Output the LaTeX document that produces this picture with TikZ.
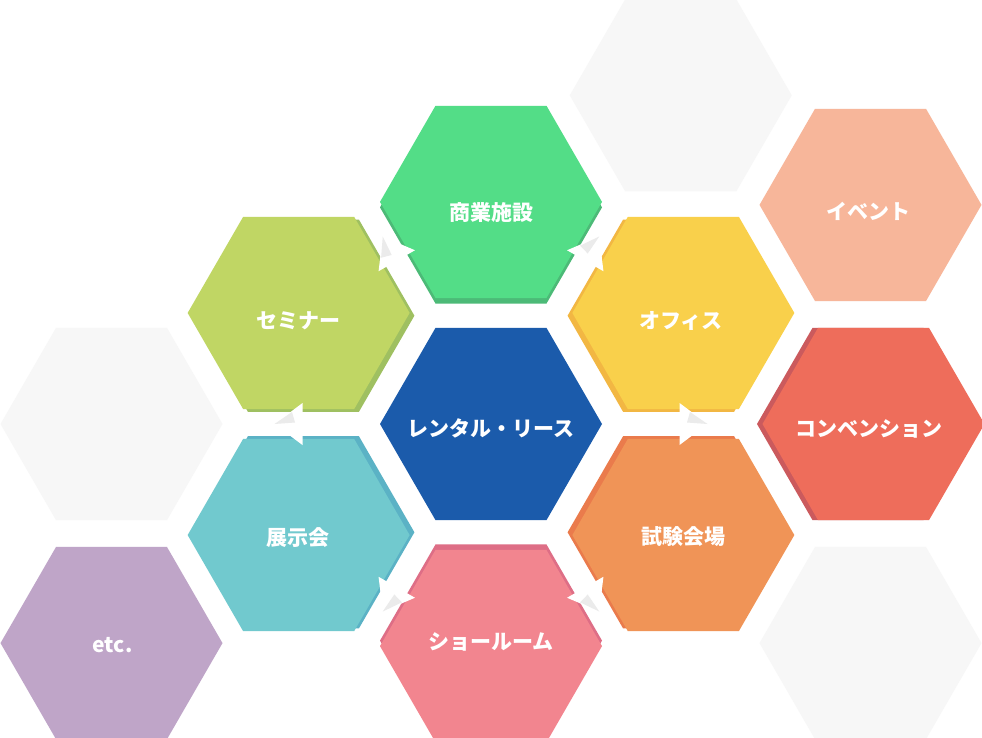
\documentclass[tikz,border=0pt]{standalone}
\usepackage{fontspec}
\newfontfamily\jp{Noto Sans CJK JP}
\usetikzlibrary{calc}
\definecolor{blueC}{HTML}{1B5BAB}
\definecolor{greenN}{HTML}{53DD87}
\definecolor{greenND}{HTML}{4CBA77}
\definecolor{semiC}{HTML}{C0D664}
\definecolor{semiD}{HTML}{9FC061}
\definecolor{officeC}{HTML}{F9D04B}
\definecolor{officeD}{HTML}{F2B743}
\definecolor{examC}{HTML}{F09457}
\definecolor{examD}{HTML}{EA7B4C}
\definecolor{showC}{HTML}{F2858F}
\definecolor{showD}{HTML}{DE6E86}
\definecolor{expoC}{HTML}{71C9CE}
\definecolor{expoD}{HTML}{5BB2C5}
\definecolor{eventC}{HTML}{F7B69A}
\definecolor{convC}{HTML}{EE6D5B}
\definecolor{convD}{HTML}{CB5A5D}
\definecolor{etcC}{HTML}{BFA5C8}
\definecolor{emptyC}{HTML}{F7F7F7}
\definecolor{arrowgrey}{HTML}{EBEBEB}
\newcommand\hexp{+(-111,0) -- +(-55.5,-96.13) -- +(55.5,-96.13) -- +(111,0) -- +(55.5,96.13) -- +(-55.5,96.13) -- cycle}
% x y ux uy face shade  (u = unit vector toward the centre)
\newcommand\cell[6]{%
  \fill[#6] ($(#1,#2)+(2.5*#3,2.5*#4)$) \hexp;
  \fill[#5] ($(#1,#2)-(3*#3,3*#4)$) \hexp;}
\newcommand\plaincell[3]{\fill[#3] (#1,#2) \hexp;}
\newcommand\outarrow[2]{%
  \begin{scope}[shift={(ctr)}, rotate=#1]
    \fill[white] (188.5,21) -- (216.5,0) -- (188.5,-21) -- cycle;
    \fill[arrowgrey] (216.5,0) -- (196,1.5*#2) -- (199,#2*12) -- cycle;
  \end{scope}}
\begin{document}
\begin{tikzpicture}[x=1pt,y=-1pt,
  lbl/.style={font=\jp\bfseries\fontsize{21}{25}\selectfont, text=white, inner sep=0pt}]
\useasboundingbox[fill=white] (0,0) rectangle (982,738);
\coordinate (ctr) at (491,424);
% empty cells
\plaincell{680.75}{95.35}{emptyC}
\plaincell{111.5}{424}{emptyC}
\plaincell{870.5}{643.1}{emptyC}
% plain coloured cells
\plaincell{870.5}{204.9}{eventC}
\plaincell{111.5}{643.1}{etcC}
\plaincell{491}{424}{blueC}
% cells with an edge toward the centre
\cell{491}{204.9}{0}{1}{greenN}{greenND}
\cell{491}{643.1}{0}{-1}{showC}{showD}
\cell{301.25}{314.45}{0.866}{0.5}{semiC}{semiD}
\cell{301.25}{533.55}{0.866}{-0.5}{expoC}{expoD}
\cell{680.75}{314.45}{-0.866}{0.5}{officeC}{officeD}
\cell{680.75}{533.55}{-0.866}{-0.5}{examC}{examD}
\cell{870.5}{424}{-1}{0}{convC}{convD}
% arrows out of the centre
\outarrow{0}{-1}
\outarrow{60}{-1}
\outarrow{120}{-1}
\outarrow{180}{1}
\outarrow{240}{-1}
\outarrow{300}{1}
% labels
\node[lbl] (t1) at (491,212.5) {商業施設};
\node[lbl] (t2) at (298,321) {セミナー};
\node[lbl] (t3) at (681,321) {オフィス};
\node[lbl] (t4) at (491,428) {レンタル・リース};
\node[lbl] (t5) at (868,211.5) {イベント};
\node[lbl] (t6) at (869,428.5) {コンベンション};
\node[lbl] (t7) at (298,537.5) {展示会};
\node[lbl] (t8) at (683,537) {試験会場};
\node[lbl] (t9) at (491,642) {ショールーム};
\node[lbl, anchor=base] (t10) at (112.5,652) {etc.};
\end{tikzpicture}
\end{document}
